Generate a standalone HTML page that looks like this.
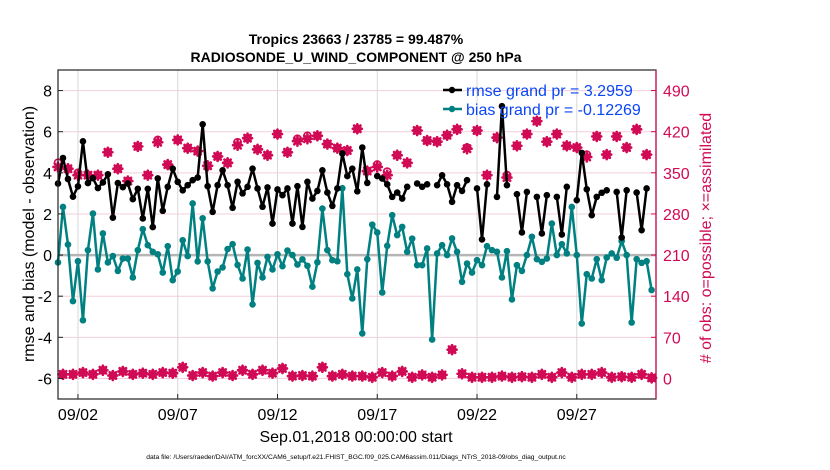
<!DOCTYPE html>
<html><head><meta charset="utf-8">
<style>
html,body{margin:0;padding:0;background:#fff;}
svg{display:block;font-family:"Liberation Sans",sans-serif;}
</style></head>
<body>
<svg id="chart" width="830" height="470" viewBox="0 0 830 470">
<text x="356" y="44" text-anchor="middle" font-size="14" font-weight="bold">Tropics 23663 / 23785 = 99.487%</text>
<text x="356" y="62" text-anchor="middle" font-size="14" font-weight="bold">RADIOSONDE_U_WIND_COMPONENT @ 250 hPa</text>
<g id="grid"></g>
<g id="series"></g>
<g id="axes"></g>
<text transform="translate(34,234) rotate(-90)" text-anchor="middle" font-size="16">rmse and bias (model - observation)</text>
<text transform="translate(711,238) rotate(-90)" text-anchor="middle" font-size="16" fill="#d10a55"># of obs: o=possible; ×=assimilated</text>
<text x="356" y="442" text-anchor="middle" font-size="16">Sep.01,2018 00:00:00 start</text>
<text x="356" y="459" text-anchor="middle" font-size="6.7">data file: /Users/raeder/DAI/ATM_forcXX/CAM6_setup/f.e21.FHIST_BGC.f09_025.CAM6assim.011/Diags_NTrS_2018-09/obs_diag_output.nc</text>
<g>
<line x1="443" y1="90" x2="462" y2="90" stroke="#000" stroke-width="2.5"/>
<circle cx="452" cy="90" r="3.2" fill="#000"/>
<text x="466" y="96" font-size="16" fill="#0a46f5">rmse grand pr = 3.2959</text>
<line x1="443" y1="109" x2="462" y2="109" stroke="#008080" stroke-width="2.5"/>
<circle cx="452" cy="109" r="3.2" fill="#008080"/>
<text x="466" y="115" font-size="16" fill="#0a46f5">bias grand pr = -0.12269</text>
</g>
</svg>
<script>
const rmse = [3.48,4.72,3.7,2.84,3.34,5.53,3.5,3.74,3.26,3.53,3.93,1.82,3.5,3.3,3.48,2.72,3.22,1.78,3.22,1.36,
3.73,2.15,3.32,4.2,3.56,3.15,3.4,3.64,3.77,6.36,3.35,2.1,3.4,4.12,3.4,2.3,3.56,3.0,3.32,4.2,
3.24,2.35,3.29,1.53,3.19,2.91,3.24,1.53,3.35,1.37,3.56,2.75,3.12,4.12,3.04,2.39,3.24,4.94,3.84,4.2,
3.1,5.23,3.51,null,3.84,3.72,3.44,2.83,3.04,2.75,3.32,null,
3.48,3.32,3.44,null,3.4,3.88,3.44,2.59,3.4,3.12,3.64,null,3.24,0.76,3.44,null,2.83,7.24,3.4,null,
2.96,1.1,3.07,null,2.83,1.05,2.91,null,2.83,1.0,3.32,null,2.67,4.97,3.2,1.94,2.83,3.03,3.15,null,
3.07,0.85,3.15,null,3.04,1.21,3.24,null];
const bias = [-0.36,2.34,0.51,-2.24,-0.3,-3.17,0.24,2.02,-0.7,1.05,-0.36,-0.05,-0.77,-0.17,-0.17,-1.09,0.24,1.26,0.48,0.16,
0.04,-0.85,0.43,-1.22,-0.8,0.72,-0.05,2.51,-0.31,1.79,-0.31,-1.62,-0.8,-0.6,0.29,0.53,-0.48,-1.14,0.27,-2.4,
-0.38,-1.09,-0.09,-0.7,0.04,-0.54,0.22,0,-0.46,-0.21,-0.52,-1.54,-0.35,2.26,0.24,-0.25,-0.3,3.25,-0.93,-2.11,
-0.7,-3.81,-0.2,1.48,1.1,-1.82,0.45,1.94,0.97,1.37,0.16,0.8,
-0.49,-0.49,0.32,-4.11,0.08,0.48,0,0.81,0.16,-1.3,-0.41,-0.85,-0.25,-0.49,0.43,0.24,0.16,-1.09,0.19,-2.16,
-0.49,-0.77,0,0.89,-0.2,-0.33,-0.17,1.53,0,0.53,0.08,2.34,0,-3.33,-0.93,-1.14,-0.2,-1.22,-0.12,0.08,
-0.13,0.68,0,-3.28,-0.2,-0.38,-0.3,-1.7];
const obsAssim = [360,7,357,7,346,10,346,7,346,14,385,5,357,12,336,7,395,9,346,7,
402,10,364,9,406,19,392,5,387,10,362,4,378,10,367,5,397,14,409,7,
390,14,380,9,416,17,385,4,404,5,408,4,413,19,399,4,392,7,388,4,
425,4,353,2,360,10,346,4,380,12,367,2,422,6,405,2,403,6,414,49,
424,8,391,2,422,2,346,2,410,4,342,2,396,3,416,2,438,7,403,2,
416,10,396,2,393,7,377,7,412,10,381,2,412,3,393,2,424,7,381,1];
const obsPossible = [367,7,357,7,350,10,346,7,346,14,385,5,357,12,336,7,395,9,346,7,
406,10,364,9,406,19,392,5,387,10,362,4,378,10,367,5,402,14,409,7,
390,14,380,9,416,17,385,4,408,5,413,4,413,19,399,4,392,7,388,4,
425,4,353,2,364,10,352,4,380,12,367,2,422,6,405,2,403,6,414,49,
424,8,393,2,422,2,346,2,410,4,346,2,396,3,416,2,438,7,403,2,
416,10,396,2,393,7,381,7,412,10,381,2,412,3,393,2,424,7,381,1];
const leftTicks = [-6,-4,-2,0,2,4,6,8];
const rightTicks = [0,70,140,210,280,350,420,490];
const dayTicks = [1,6,11,16,21,26];
const dayLabels = ["09/02","09/07","09/12","09/17","09/22","09/27"];
const binDays = 0.25;

const L=58,R=656,T=70,B=399;
const X0=0,X1=29.97,Y0=-7,Y1=9;
function xs(t){return L+(t-X0)/(X1-X0)*(R-L);}
function ys(v){return T+(Y1-v)/(Y1-Y0)*(B-T);}
function yr(c){return ys(c/35-6);}
const NS="http://www.w3.org/2000/svg";
function mk(tag,attrs,parent){const e=document.createElementNS(NS,tag);for(const k in attrs)e.setAttribute(k,attrs[k]);parent.appendChild(e);return e;}
const grid=document.getElementById('grid'),ser=document.getElementById('series'),axes=document.getElementById('axes');

leftTicks.forEach(v=>{
  const g=mk('line',{x1:L,x2:R,y1:ys(v),y2:ys(v),stroke:'#f3cfdc','stroke-width':1},grid);
  
  
  const t=mk('text',{x:L-6,y:ys(v)+6,'text-anchor':'end','font-size':16},axes);
  t.textContent=v;
  
  
  const tk=mk('line',{x1:L,x2:L+5,y1:ys(v),y2:ys(v),stroke:'#222'},axes);
  
  
});
dayTicks.forEach((d,i)=>{
  const g=mk('line',{x1:xs(d),x2:xs(d),y1:T,y2:B,stroke:'#d8d8d8','stroke-width':1},grid);
  
  
  const t=mk('text',{x:xs(d),y:420,'text-anchor':'middle','font-size':16},axes);
  t.textContent=dayLabels[i];
  
  
  const tk=mk('line',{x1:xs(d),x2:xs(d),y1:B,y2:B-5,stroke:'#222'},axes);
  
  
});
rightTicks.forEach(c=>{
  const t=mk('text',{x:R+7,y:yr(c)+6,'font-size':16,fill:'#d10a55'},axes);
  t.textContent=c;
  
  
  const tk=mk('line',{x1:R,x2:R-5,y1:yr(c),y2:yr(c),stroke:'#d10a55'},axes);
  
  
});
const zl=mk('line',{x1:L,x2:R,y1:ys(0),y2:ys(0),stroke:'#b5b5b5','stroke-width':2.5},grid);



obsPossible.forEach((c,i)=>{
  const ci=mk('circle',{cx:xs(i*binDays),cy:yr(c),r:3.6,fill:'none',stroke:'#d10a55','stroke-width':1.6},ser);
  
  
});
obsAssim.forEach((c,i)=>{
  const x=xs(i*binDays),y=yr(c);
  const p=mk('path',{d:`M${x-4.5},${y}H${x+4.5}M${x},${y-4.5}V${y+4.5}M${x-3.2},${y-3.2}L${x+3.2},${y+3.2}M${x-3.2},${y+3.2}L${x+3.2},${y-3.2}`,stroke:'#d10a55','stroke-width':2.6,'stroke-linecap':'round'},ser);
  
  
});

function drawSeries(vals,color,name){
  let d='';let pen=false;
  vals.forEach((v,i)=>{
    if(v===null){pen=false;return;}
    d+=(pen?'L':'M')+xs(i*binDays)+','+ys(v);pen=true;
  });
  const p=mk('path',{d:d,fill:'none',stroke:color,'stroke-width':2.5,'stroke-linejoin':'round'},ser);
  
  
  vals.forEach((v,i)=>{
    if(v===null)return;
    const c=mk('circle',{cx:xs(i*binDays),cy:ys(v),r:3.3,fill:color},ser);
    
    
  });
}
drawSeries(bias,'#008080','bias');
drawSeries(rmse,'#000000','rmse');

const fr=mk('rect',{x:L,y:T,width:R-L,height:B-T,fill:'none',stroke:'#222','stroke-width':1.2},axes);


const rf=mk('line',{x1:R,x2:R,y1:T,y2:B,stroke:'#d10a55','stroke-width':1.2},axes);


</script>
</body></html>
